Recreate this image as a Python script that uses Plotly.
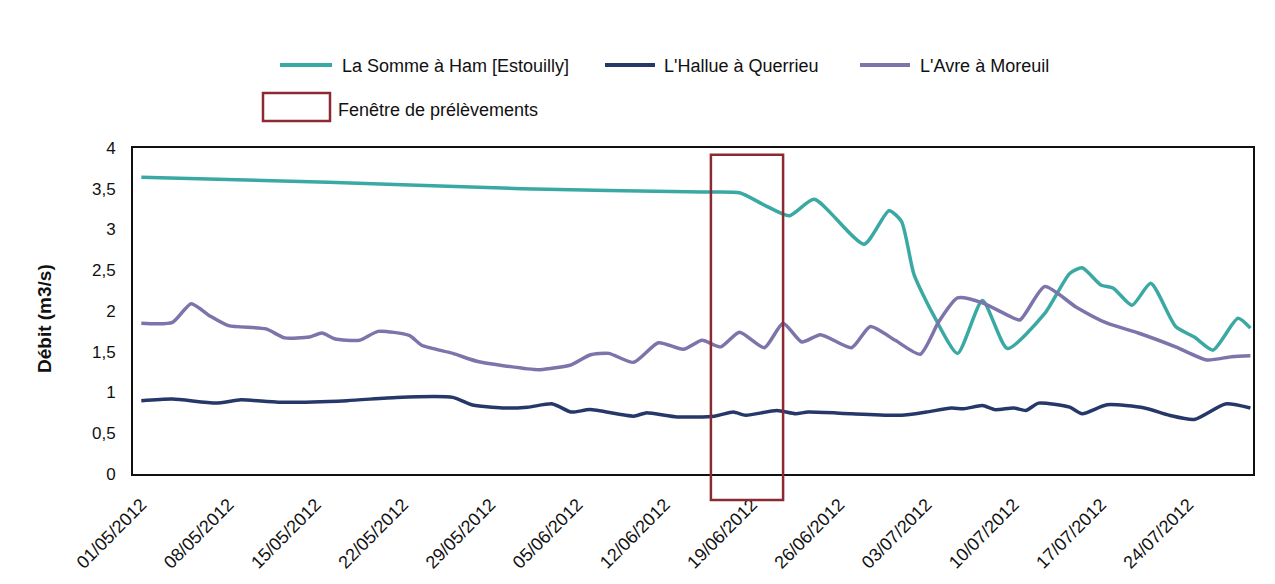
import plotly.graph_objects as go

# ---------------- data ----------------
somme_dates = ["2012-05-01", "2012-05-16", "2012-05-31 12:00", "2012-06-15", "2012-06-18",
               "2012-06-20", "2012-06-22", "2012-06-24", "2012-06-28", "2012-06-30",
               "2012-07-01", "2012-07-02", "2012-07-03 12:00", "2012-07-05 12:00",
               "2012-07-07 12:00", "2012-07-09 12:00", "2012-07-12 12:00", "2012-07-14 12:00",
               "2012-07-15 12:00", "2012-07-17", "2012-07-18", "2012-07-19 12:00",
               "2012-07-21", "2012-07-23", "2012-07-24 12:00", "2012-07-26", "2012-07-28",
               "2012-07-29"]
somme_values = [3.64, 3.58, 3.50, 3.46, 3.45, 3.30, 3.17, 3.37, 2.82, 3.23,
                3.10, 2.45, 1.97, 1.48, 2.13, 1.54, 1.97, 2.46, 2.53, 2.32,
                2.28, 2.07, 2.34, 1.81, 1.68, 1.52, 1.91, 1.79]

avre_dates = ["2012-05-01", "2012-05-03 12:00", "2012-05-05", "2012-05-06 12:00", "2012-05-08",
              "2012-05-11", "2012-05-12 12:00", "2012-05-14 12:00", "2012-05-15 12:00",
              "2012-05-16 12:00", "2012-05-18 12:00", "2012-05-20", "2012-05-22 12:00",
              "2012-05-23 12:00", "2012-05-26", "2012-05-28", "2012-06-01", "2012-06-02",
              "2012-06-04 12:00", "2012-06-06", "2012-06-07 12:00", "2012-06-09 12:00",
              "2012-06-11 12:00", "2012-06-13 12:00", "2012-06-15", "2012-06-16 12:00",
              "2012-06-18", "2012-06-20", "2012-06-21 12:00", "2012-06-23",
              "2012-06-24 12:00", "2012-06-27", "2012-06-28 12:00", "2012-06-30 12:00",
              "2012-07-02 12:00", "2012-07-04", "2012-07-05 12:00", "2012-07-07 12:00",
              "2012-07-09 12:00", "2012-07-10 12:00", "2012-07-12 12:00", "2012-07-15",
              "2012-07-17 12:00", "2012-07-20", "2012-07-23", "2012-07-25 12:00",
              "2012-07-27 12:00", "2012-07-29"]
avre_values = [1.85, 1.86, 2.09, 1.94, 1.82, 1.78, 1.67, 1.68, 1.73, 1.66,
               1.64, 1.75, 1.70, 1.58, 1.48, 1.38, 1.29, 1.28, 1.34, 1.46,
               1.48, 1.37, 1.61, 1.53, 1.64, 1.56, 1.74, 1.55, 1.85, 1.62,
               1.71, 1.55, 1.81, 1.64, 1.47, 1.87, 2.16, 2.10, 1.95, 1.89,
               2.30, 2.05, 1.85, 1.73, 1.56, 1.40, 1.44, 1.45]

hallue_dates = ["2012-05-01", "2012-05-03 12:00", "2012-05-07", "2012-05-09", "2012-05-12",
                "2012-05-17 12:00", "2012-05-21 12:00", "2012-05-26", "2012-05-27 12:00",
                "2012-05-30", "2012-06-01", "2012-06-03", "2012-06-04 12:00", "2012-06-06",
                "2012-06-09 12:00", "2012-06-10 12:00", "2012-06-13", "2012-06-16",
                "2012-06-17 12:00", "2012-06-18 12:00", "2012-06-21", "2012-06-22 12:00",
                "2012-06-23 12:00", "2012-06-27", "2012-07-01", "2012-07-03", "2012-07-05",
                "2012-07-06", "2012-07-07 12:00", "2012-07-08 12:00", "2012-07-10",
                "2012-07-11", "2012-07-12", "2012-07-14 12:00", "2012-07-15 12:00",
                "2012-07-17 12:00", "2012-07-20 12:00", "2012-07-22 12:00",
                "2012-07-24 12:00", "2012-07-27", "2012-07-29"]
hallue_values = [0.90, 0.92, 0.87, 0.91, 0.88, 0.90, 0.94, 0.94, 0.85, 0.81,
                 0.82, 0.86, 0.76, 0.79, 0.71, 0.75, 0.70, 0.71, 0.76, 0.72,
                 0.78, 0.74, 0.76, 0.74, 0.72, 0.76, 0.81, 0.80, 0.84, 0.79,
                 0.81, 0.78, 0.87, 0.82, 0.74, 0.85, 0.81, 0.72, 0.67, 0.86, 0.81]

series_names = ["La Somme à Ham [Estouilly]", "L'Hallue à Querrieu", "L'Avre à Moreuil"]
window_name = "Fenêtre de prélèvements"
window_dates = ["2012-06-15 17:00", "2012-06-21 12:00"]

y_tick_values = [0, 0.5, 1, 1.5, 2, 2.5, 3, 3.5, 4]
y_tick_labels = ["0", "0,5", "1", "1,5", "2", "2,5", "3", "3,5", "4"]

# ---------------- style ----------------
C_SOMME = "#3AA9A3"
C_HALLUE = "#26386A"
C_AVRE = "#7C74AA"
C_WIN = "#8B2A33"
FONT = "Liberation Sans, Arial, sans-serif"

fig = go.Figure()
for dates, vals, name, col in [
    (somme_dates, somme_values, series_names[0], C_SOMME),
    (hallue_dates, hallue_values, series_names[1], C_HALLUE),
    (avre_dates, avre_values, series_names[2], C_AVRE),
]:
    fig.add_trace(go.Scatter(x=dates, y=vals, mode="lines", name=name,
                             line=dict(color=col, width=3.5, shape="spline", smoothing=0.6),
                             showlegend=False))

# sampling window box (extends below the axis)
fig.add_shape(type="rect", xref="x", yref="paper",
              x0=window_dates[0], x1=window_dates[1], y0=-0.08, y1=0.979,
              line=dict(color=C_WIN, width=2.5), fillcolor="rgba(0,0,0,0)", layer="above")

# manual legend (positions relative to plot area)
W, H, L = 1120.0, 326.0, 133.0
def px(x):
    return (x - L) / W
def py(y):
    return (474 - y) / H

legend_row1 = [(280, 332, 340, C_SOMME, series_names[0]),
               (605, 655, 662, C_HALLUE, series_names[1]),
               (860, 910, 918, C_AVRE, series_names[2])]
for x0, x1, tx, col, name in legend_row1:
    fig.add_shape(type="line", xref="paper", yref="paper", x0=px(x0), x1=px(x1),
                  y0=py(65), y1=py(65), line=dict(color=col, width=4))
    fig.add_annotation(xref="paper", yref="paper", x=px(tx), y=py(66), text=name,
                       showarrow=False, xanchor="left", yanchor="middle",
                       font=dict(family=FONT, size=18, color="#111"))
fig.add_shape(type="rect", xref="paper", yref="paper", x0=px(263), x1=px(330),
              y0=py(121), y1=py(93), line=dict(color=C_WIN, width=2.5),
              fillcolor="rgba(0,0,0,0)")
fig.add_annotation(xref="paper", yref="paper", x=px(336), y=py(110), text=window_name,
                   showarrow=False, xanchor="left", yanchor="middle",
                   font=dict(family=FONT, size=18, color="#111"))

# y-axis title
fig.add_annotation(xref="paper", yref="paper", x=px(44), y=py(319), text="<b>Débit (m3/s)</b>",
                   showarrow=False, textangle=-90, xanchor="center", yanchor="middle",
                   font=dict(family=FONT, size=19, color="#111"))

# the page body adds an 8px offset; margins compensate so the plot area lands at 133..1253 x 148..474
fig.update_layout(
    width=1275, height=584,
    margin=dict(l=125, r=30, t=140, b=118),
    paper_bgcolor="white", plot_bgcolor="white",
    font=dict(family=FONT, size=16, color="#111"),
    showlegend=False,
)
fig.update_xaxes(
    type="date", range=["2012-04-30 08:00", "2012-07-29 05:00"],
    tick0="2012-05-01", dtick=7 * 86400000, tickformat="%d/%m/%Y",
    tickangle=-45, ticks="outside", ticklen=11, tickcolor="rgba(0,0,0,0)",
    tickfont=dict(family=FONT, size=18, color="#111"),
    showgrid=False, zeroline=False,
    showline=True, linecolor="#111", linewidth=2, mirror=True,
)
fig.update_yaxes(
    range=[0, 4], tickvals=y_tick_values, ticktext=y_tick_labels,
    ticks="outside", ticklen=12, tickcolor="rgba(0,0,0,0)",
    tickfont=dict(family=FONT, size=17, color="#111"),
    showgrid=False, zeroline=False,
    showline=True, linecolor="#111", linewidth=2, mirror=True,
)

fig.write_html("out.html")
